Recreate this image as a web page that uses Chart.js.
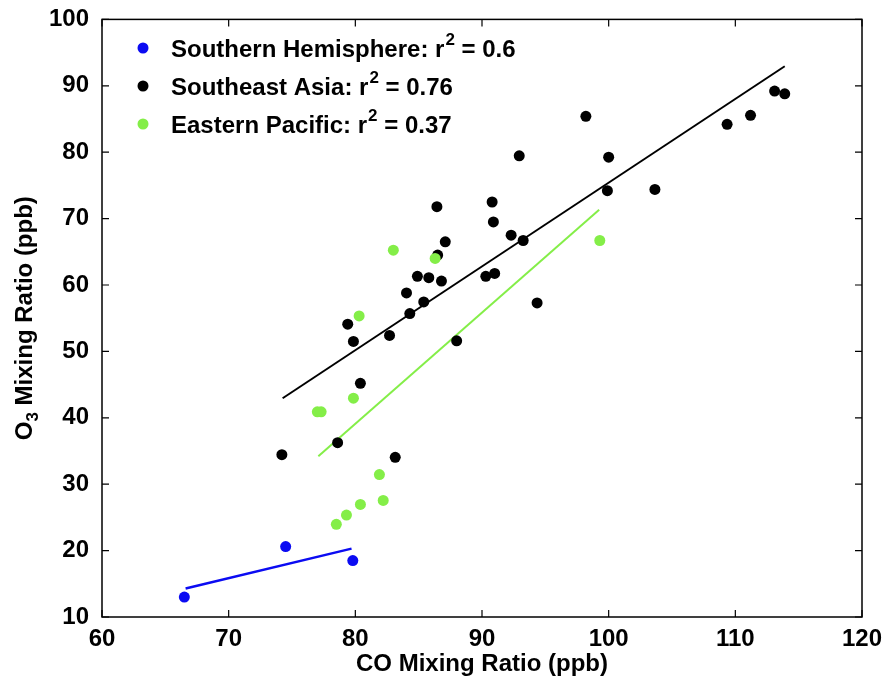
<!DOCTYPE html>
<html>
<head>
<meta charset="utf-8">
<script src="https://cdn.jsdelivr.net/npm/chart.js@4.4.1/dist/chart.umd.min.js"></script>
<style>
  body { margin: 0; background: #fff; }
</style>
</head>
<body>
<canvas id="chart" width="885" height="678"></canvas>
<script>
// Southern Hemisphere
const shCO = [66.5, 74.5, 79.8];
const shO3 = [13.0, 20.6, 18.5];
const shFitCO = [66.6, 79.7];
const shFitO3 = [14.3, 20.3];

// Southeast Asia
const seaCO = [74.2, 78.6, 79.4, 79.85, 80.4, 82.7, 83.15, 84.04, 84.3, 84.9, 85.4, 85.8,
  86.44, 86.5, 86.8, 87.1, 88.0, 90.3, 90.8, 90.9, 91.0, 92.3, 93.25, 92.94, 94.35,
  98.2, 99.9, 100.0, 103.65, 109.35, 111.2, 113.1, 113.9];
const seaO3 = [34.45, 36.25, 54.1, 51.5, 45.2, 52.4, 34.05, 58.8, 55.7, 61.3, 57.45, 61.1,
  71.8, 64.5, 60.6, 66.5, 51.6, 61.3, 72.5, 69.5, 61.75, 67.5, 66.7, 79.45, 57.3,
  85.4, 74.2, 79.25, 74.4, 84.2, 85.55, 89.2, 88.8];
const seaFitCO = [74.26, 113.9];
const seaFitO3 = [42.95, 92.95];

// Eastern Pacific
const epCO = [77.0, 77.3, 78.5, 79.3, 79.85, 80.3, 80.4, 81.9, 82.2, 83.0, 86.3, 99.3];
const epO3 = [40.9, 40.9, 23.95, 25.35, 42.95, 55.35, 26.95, 31.45, 27.55, 65.25, 64.0, 66.7];
const epFitCO = [77.08, 99.25];
const epFitO3 = [34.2, 71.35];

const seriesNames = ['Southern Hemisphere', 'Southeast Asia', 'Eastern Pacific'];
const seriesR2 = ['0.6', '0.76', '0.37'];
const seriesColors = ['#0b0bf2', '#000000', '#84ee48'];

const xTicks = [60, 70, 80, 90, 100, 110, 120];
const yTicks = [10, 20, 30, 40, 50, 60, 70, 80, 90, 100];

const FONT = '"Liberation Sans", Arial, Helvetica, sans-serif';

function pts(xs, ys) {
  return xs.map((x, i) => ({ x: x, y: ys[i] }));
}

const framePlugin = {
  id: 'frame',
  afterDraw(chart) {
    const ctx = chart.ctx;
    const a = chart.chartArea;
    const xs = chart.scales.x;
    const ys = chart.scales.y;
    ctx.save();
    ctx.strokeStyle = '#000';
    ctx.lineWidth = 1.5;
    ctx.strokeRect(a.left, a.top, a.right - a.left, a.bottom - a.top);
    ctx.lineWidth = 1.2;
    ctx.beginPath();
    xTicks.forEach(v => {
      const px = xs.getPixelForValue(v);
      ctx.moveTo(px, a.bottom); ctx.lineTo(px, a.bottom - 7);
      ctx.moveTo(px, a.top); ctx.lineTo(px, a.top + 7);
    });
    yTicks.forEach(v => {
      const py = ys.getPixelForValue(v);
      ctx.moveTo(a.left, py); ctx.lineTo(a.left + 7, py);
      ctx.moveTo(a.right, py); ctx.lineTo(a.right - 7, py);
    });
    ctx.stroke();

    // y axis title with subscript
    ctx.fillStyle = '#000';
    ctx.translate(25, (a.top + a.bottom) / 2);
    ctx.rotate(-Math.PI / 2);
    ctx.textBaseline = 'middle';
    const big = 'bold 24px ' + FONT;
    const small = 'bold 17px ' + FONT;
    ctx.font = big;
    const wO = ctx.measureText('O').width;
    const rest = ' Mixing Ratio (ppb)';
    const wRest = ctx.measureText(rest).width;
    ctx.font = small;
    const w3 = ctx.measureText('3').width;
    let x0 = -(wO + w3 + wRest) / 2;
    ctx.font = big;
    ctx.fillText('O', x0, 0);
    ctx.font = small;
    ctx.fillText('3', x0 + wO, 8);
    ctx.font = big;
    ctx.fillText(rest, x0 + wO + w3, 0);
    ctx.restore();

    // legend
    ctx.save();
    ctx.textBaseline = 'middle';
    const rowsY = [49, 87, 125];
    seriesNames.forEach((name, i) => {
      const y = rowsY[i];
      ctx.fillStyle = seriesColors[i];
      ctx.beginPath();
      ctx.arc(143, y - 1, 5.5, 0, Math.PI * 2);
      ctx.fill();
      ctx.fillStyle = '#000';
      ctx.font = big;
      let tx = 171;
      const t1 = name + ': r';
      ctx.fillText(t1, tx, y + 1);
      tx += ctx.measureText(t1).width;
      ctx.font = small;
      ctx.fillText('2', tx + 1, y - 9);
      tx += ctx.measureText('2').width + 1;
      ctx.font = big;
      ctx.fillText(' = ' + seriesR2[i], tx, y + 1);
    });
    ctx.restore();
  }
};

const ctx = document.getElementById('chart').getContext('2d');
new Chart(ctx, {
  type: 'scatter',
  data: {
    datasets: [
      { label: seriesNames[2], data: pts(epCO, epO3), backgroundColor: seriesColors[2],
        borderWidth: 0, pointRadius: 5.5, order: 1 },
      { label: seriesNames[1], data: pts(seaCO, seaO3), backgroundColor: seriesColors[1],
        borderWidth: 0, pointRadius: 5.5, order: 2 },
      { label: seriesNames[0], data: pts(shCO, shO3), backgroundColor: seriesColors[0],
        borderWidth: 0, pointRadius: 5.5, order: 3 },
      { label: 'fit SEA', data: pts(seaFitCO, seaFitO3), showLine: true, pointRadius: 0,
        borderColor: seriesColors[1], borderWidth: 2, order: 4 },
      { label: 'fit EP', data: pts(epFitCO, epFitO3), showLine: true, pointRadius: 0,
        borderColor: seriesColors[2], borderWidth: 2, order: 5 },
      { label: 'fit SH', data: pts(shFitCO, shFitO3), showLine: true, pointRadius: 0,
        borderColor: seriesColors[0], borderWidth: 2.5, order: 6 }
    ]
  },
  options: {
    responsive: false,
    animation: false,
    layout: { padding: { top: 17, right: 23 } },
    plugins: {
      legend: { display: false },
      tooltip: { enabled: false }
    },
    scales: {
      x: {
        type: 'linear', min: 60, max: 120,
        afterFit: (s) => { s.height = 61; },
        afterBuildTicks: (s) => { s.ticks = xTicks.map(v => ({ value: v })); },
        grid: { display: false },
        border: { display: false },
        ticks: { color: '#000', font: { family: FONT, size: 24, weight: 'bold', lineHeight: 1 }, padding: 2, maxRotation: 0 },
        title: { display: true, text: 'CO Mixing Ratio (ppb)', color: '#000',
          font: { family: FONT, size: 24, weight: 'bold', lineHeight: 1 }, padding: { top: 0, bottom: 2 } }
      },
      y: {
        type: 'linear', min: 10, max: 100,
        afterFit: (s) => { s.width = 102; },
        afterBuildTicks: (s) => { s.ticks = yTicks.map(v => ({ value: v })); },
        grid: { display: false },
        border: { display: false },
        ticks: { color: '#000', font: { family: FONT, size: 24, weight: 'bold' }, padding: 5 }
      }
    }
  },
  plugins: [framePlugin]
});
</script>
</body>
</html>
